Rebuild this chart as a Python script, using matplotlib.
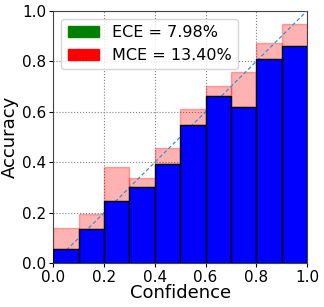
import numpy as np
import matplotlib
matplotlib.use("Agg")
import matplotlib.pyplot as plt
import matplotlib.patches as mpatches

# reliability diagram, 10 bins
bins = np.arange(0.05, 1.0, 0.1)
accs = [0.057, 0.136, 0.246, 0.301, 0.392, 0.549, 0.663, 0.621, 0.810, 0.861]
confs = [0.142, 0.194, 0.380, 0.340, 0.455, 0.612, 0.702, 0.757, 0.871, 0.947]
ece_label = "ECE = 7.98%"
mce_label = "MCE = 13.40%"

accs = np.array(accs)
confs = np.array(confs)
gaps = confs - accs

fig = plt.figure(figsize=(3.24, 3.07), dpi=100)
ax = fig.add_axes([0.164, 0.142, 0.784, 0.823])

ax.grid(True, color="gray", linestyle=":", linewidth=0.8, zorder=0)
ax.set_axisbelow(True)

# gap bars (accuracy -> confidence)
ax.bar(bins, gaps, bottom=accs, width=0.1, color="red", alpha=0.3,
       edgecolor="red", linewidth=1, zorder=2)
ax.plot([0, 1], [0, 1], linestyle="--", color="#3a8fd0", linewidth=0.9,
        dashes=(3, 2), zorder=3)
# accuracy bars
ax.bar(bins, accs, width=0.1, color="blue", edgecolor="black",
       linewidth=1, zorder=4)

ax.set_xlim(0, 1)
ax.set_ylim(0, 1)
ax.set_xticks(np.arange(0, 1.01, 0.2))
ax.set_yticks(np.arange(0, 1.01, 0.2))
ax.tick_params(labelsize=11, length=3, pad=2)
ax.set_xlabel("Confidence", fontsize=13, labelpad=-1)
ax.set_ylabel("Accuracy", fontsize=13, labelpad=2)
for s in ax.spines.values():
    s.set_color("#444444")

ece_patch = mpatches.Patch(color="green", label=ece_label)
mce_patch = mpatches.Patch(color="red", label=mce_label)
ax.legend(handles=[ece_patch, mce_patch], loc="upper left", fontsize=11.5)

fig.savefig("out.png", dpi=100)
